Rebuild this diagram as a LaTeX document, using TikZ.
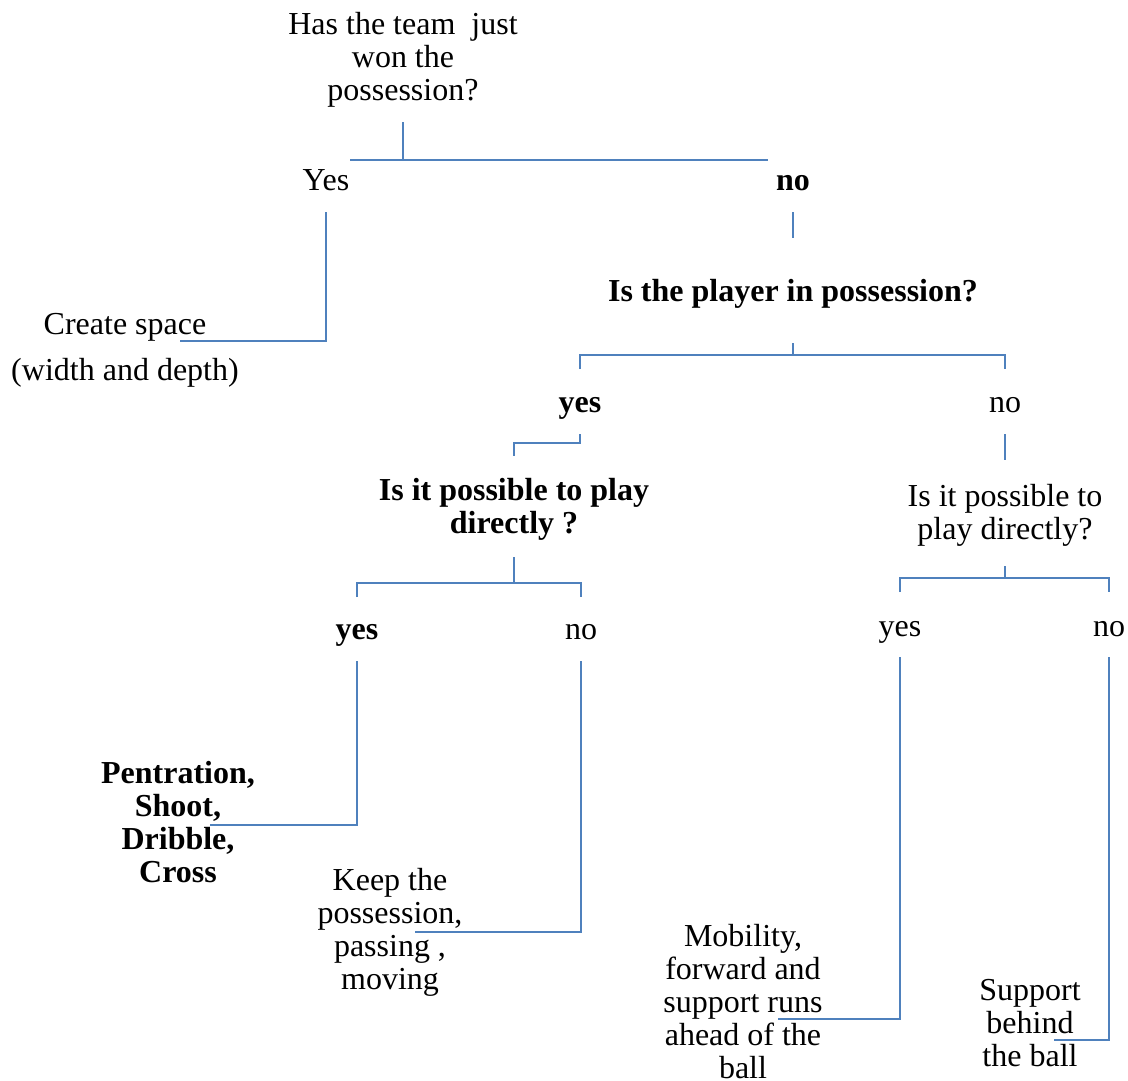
\documentclass[tikz,border=0pt]{standalone}
\usepackage{fontspec}
\setmainfont{Liberation Serif}
\definecolor{linkblue}{RGB}{79,129,189}
\begin{document}
\begin{tikzpicture}[x=1pt,y=-1pt,
  link/.style={draw=linkblue, line width=2pt},
  txt/.style={inner sep=0pt, align=center, font=\fontsize{32}{33}\selectfont},
  btxt/.style={inner sep=0pt, align=center, font=\fontsize{32}{33}\selectfont\bfseries}]
\useasboundingbox (0,0) rectangle (1128,1080);
% nodes
\node[txt]  (q1)   at (403,60)  {Has the team\ \ just\\won the\\possession?};
\node[txt]  (yes1) at (326,180) {Yes};
\node[btxt] (no1)  at (793,183) {no};
\node[txt]  (a1)   at (125,350) {Create space\\[13pt](width and depth)};
\node[btxt] (q2)   at (793,294) {Is the player in possession?};
\node[btxt] (yes2) at (580,408) {yes};
\node[txt]  (no2)  at (1005,405) {no};
\node[btxt] (q3)   at (514,509) {Is it possible to play\\directly ?};
\node[txt]  (q4)   at (1005,515) {Is it possible to\\play directly?};
\node[btxt] (yes3) at (357,635) {yes};
\node[txt]  (no3)  at (581,632) {no};
\node[txt]  (yes4) at (900,632) {yes};
\node[txt]  (no4)  at (1109,629) {no};
\node[btxt] (a2)   at (178,822) {Pentration,\\Shoot,\\Dribble,\\Cross};
\node[txt]  (a3)   at (390,932) {Keep the\\possession,\\passing ,\\moving};
\node[txt]  (a4)   at (743,1002) {Mobility,\\forward and\\support runs\\ahead of the\\ball};
\node[txt]  (a5)   at (1030,1023) {Support\\behind\\the ball};
% connectors
\draw[link] (q1 |- 0,122) -- (q1 |- 0,160);
\draw[link] (350,160) -- (768,160);
\draw[link] (yes1 |- 0,212) |- (180,341);
\draw[link] (no1 |- 0,212) -- (no1 |- 0,238);
\draw[link] (q2 |- 0,343) -- (q2 |- 0,355);
\draw[link] (yes2 |- 0,369) |- (no2 |- 0,355) -- (no2 |- 0,369);
\draw[link] (yes2 |- 0,434) |- (q3 |- 0,443) -- (q3 |- 0,456);
\draw[link] (q3 |- 0,557) -- (q3 |- 0,583);
\draw[link] (yes3 |- 0,597) |- (no3 |- 0,583) -- (no3 |- 0,597);
\draw[link] (no2 |- 0,434) -- (no2 |- 0,460);
\draw[link] (q4 |- 0,566) -- (q4 |- 0,578);
\draw[link] (yes4 |- 0,592) |- (no4 |- 0,578) -- (no4 |- 0,592);
\draw[link] (yes3 |- 0,661) |- (210,825);
\draw[link] (no3 |- 0,661) |- (415,932);
\draw[link] (yes4 |- 0,657) |- (778,1019);
\draw[link] (no4 |- 0,657) |- (1054,1040);
\end{tikzpicture}
\end{document}
